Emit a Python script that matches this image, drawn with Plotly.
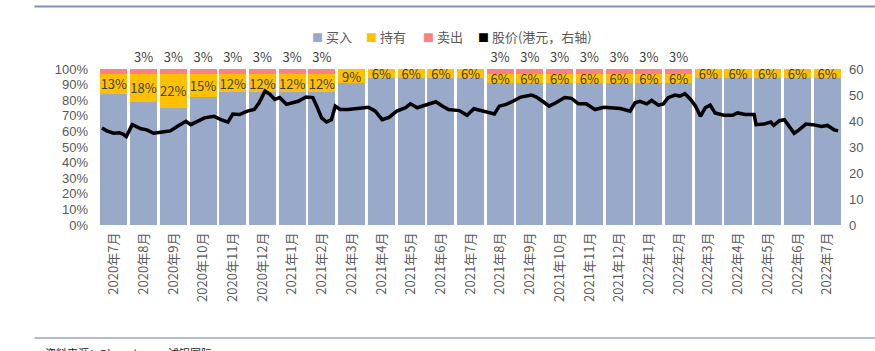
import plotly.graph_objects as go

months = ["2020年7月", "2020年8月", "2020年9月", "2020年10月", "2020年11月", "2020年12月",
          "2021年1月", "2021年2月", "2021年3月", "2021年4月", "2021年5月", "2021年6月",
          "2021年7月", "2021年8月", "2021年9月", "2021年10月", "2021年11月", "2021年12月",
          "2022年1月", "2022年2月", "2022年3月", "2022年4月", "2022年5月", "2022年6月",
          "2022年7月"]
buy = [84, 79, 75, 82, 85, 85, 85, 85, 91, 94, 94, 94, 94, 91, 91, 91, 91, 91, 91, 91, 94, 94, 94, 94, 94]
hold = [13, 18, 22, 15, 12, 12, 12, 12, 9, 6, 6, 6, 6, 6, 6, 6, 6, 6, 6, 6, 6, 6, 6, 6, 6]
sell = [3, 3, 3, 3, 3, 3, 3, 3, 0, 0, 0, 0, 0, 3, 3, 3, 3, 3, 3, 3, 0, 0, 0, 0, 0]
sell_labels = ["", "3%", "3%", "3%", "3%", "3%", "3%", "3%", "", "", "", "", "",
               "3%", "3%", "3%", "3%", "3%", "3%", "3%", "", "", "", "", ""]
legend_names = ["买入", "持有", "卖出", "股价(港元，右轴)"]

price_dates = [
    "2020-07-04", "2020-07-09", "2020-07-16", "2020-07-22", "2020-07-26", "2020-07-29",
    "2020-08-04", "2020-08-13", "2020-08-19", "2020-08-26", "2020-09-02", "2020-09-12",
    "2020-09-19", "2020-09-28", "2020-10-03", "2020-10-10", "2020-10-17", "2020-10-27",
    "2020-11-03", "2020-11-10", "2020-11-15", "2020-11-22", "2020-11-30", "2020-12-07",
    "2020-12-12", "2020-12-18", "2020-12-23", "2020-12-28", "2021-01-02", "2021-01-09",
    "2021-01-14", "2021-01-21", "2021-01-29", "2021-02-05", "2021-02-09", "2021-02-14",
    "2021-02-19", "2021-02-24", "2021-02-28", "2021-03-05", "2021-03-13", "2021-03-24",
    "2021-04-03", "2021-04-10", "2021-04-17", "2021-04-24", "2021-05-02", "2021-05-11",
    "2021-05-16", "2021-05-23", "2021-05-31", "2021-06-11", "2021-06-18", "2021-06-24",
    "2021-07-05", "2021-07-13", "2021-07-20", "2021-07-27", "2021-08-05", "2021-08-10",
    "2021-08-15", "2021-08-22", "2021-08-29", "2021-09-06", "2021-09-17", "2021-09-22",
    "2021-09-29", "2021-10-05", "2021-10-12", "2021-10-21", "2021-10-28", "2021-11-04",
    "2021-11-12", "2021-11-21", "2021-11-30", "2021-12-06", "2021-12-17", "2021-12-27",
    "2022-01-01", "2022-01-06", "2022-01-13", "2022-01-18", "2022-01-25", "2022-01-30",
    "2022-02-04", "2022-02-11", "2022-02-16", "2022-02-21", "2022-02-27", "2022-03-04",
    "2022-03-09", "2022-03-14", "2022-03-19", "2022-03-24", "2022-04-02", "2022-04-11",
    "2022-04-16", "2022-04-24", "2022-05-03", "2022-05-05", "2022-05-13", "2022-05-20",
    "2022-05-23", "2022-05-29", "2022-06-03", "2022-06-08", "2022-06-13", "2022-06-18",
    "2022-06-25", "2022-07-02", "2022-07-11", "2022-07-17", "2022-07-24", "2022-07-28",
]
price = [
    37.3, 36.2, 35.3, 35.5, 34.9, 34.0,
    38.6, 37.0, 36.6, 35.3, 35.7, 36.2,
    37.9, 39.9, 38.6, 39.9, 41.2, 41.8,
    40.5, 39.6, 42.7, 42.5, 43.8, 44.4,
    47.0, 51.5, 50.3, 48.3, 49.0, 46.4,
    47.0, 47.6, 49.2, 49.0, 45.7, 41.2,
    39.6, 40.5, 45.7, 44.4, 44.4, 44.8,
    45.3, 43.8, 40.5, 41.4, 43.8, 45.1,
    46.6, 45.1, 46.0, 47.4, 45.7, 44.4,
    44.0, 42.2, 44.7, 44.0, 43.1, 42.7,
    45.7, 46.4, 47.6, 49.2, 50.0, 49.2,
    47.4, 45.7, 47.0, 49.0, 48.7, 46.6,
    46.6, 44.4, 45.3, 45.1, 44.8, 43.8,
    47.0, 47.6, 46.6, 47.9, 46.1, 46.6,
    49.0, 50.0, 49.6, 50.5, 48.3, 45.7,
    41.8, 45.1, 46.1, 43.1, 42.2, 42.2,
    43.1, 42.5, 42.5, 38.6, 38.8, 39.6,
    38.3, 40.1, 40.5, 37.9, 35.3, 36.6,
    38.8, 38.6, 37.9, 38.3, 36.6, 36.2,
]

FONT = "Noto Sans CJK SC, Noto Sans, sans-serif"
NUM_FONT = "Liberation Sans, Arial, sans-serif"
TICK_COLOR = "#595959"
LABEL_COLOR = "#404040"
BUY_C, HOLD_C, SELL_C, PRICE_C = "#98A9C9", "#FFC000", "#FF8080", "#000000"

fig = go.Figure()
fig.add_trace(go.Bar(x=months, y=buy, name=legend_names[0], marker_color=BUY_C,
                     marker_line_width=0))
fig.add_trace(go.Bar(x=months, y=hold, name=legend_names[1], marker_color=HOLD_C,
                     marker_line_width=0, texttemplate="%{y:.0f}%",
                     textposition="inside", insidetextanchor="middle",
                     constraintext="none", textangle=0,
                     textfont=dict(color=LABEL_COLOR, size=13, family=FONT)))
fig.add_trace(go.Bar(x=months, y=sell, name=legend_names[2], marker_color=SELL_C,
                     marker_line_width=0, text=sell_labels, textposition="outside",
                     constraintext="none", cliponaxis=False, textangle=0,
                     textfont=dict(color=LABEL_COLOR, size=13, family=FONT),
                     outsidetextfont=dict(color=LABEL_COLOR, size=13, family=FONT)))
fig.add_trace(go.Scatter(x=price_dates, y=price, mode="lines", name=legend_names[3],
                         line=dict(color=PRICE_C, width=3.5), xaxis="x2", yaxis="y2"))

# legend drawn as text items: coloured square + name
legend_x = [0.2846, 0.3570, 0.4336, 0.5074]
legend_colors = [BUY_C, HOLD_C, SELL_C, PRICE_C]
annotations = []
for name, col, lx in zip(legend_names, legend_colors, legend_x):
    annotations.append(dict(
        text=f"<span style='color:{col};font-size:11px'>■</span> {name}",
        xref="paper", yref="paper", x=lx, y=1.209, xanchor="left", yanchor="middle",
        showarrow=False, font=dict(size=13, color=TICK_COLOR, family=FONT)))
annotations.append(dict(
    text="资料来源：Bloomberg，浦银国际", xref="paper", yref="paper",
    x=-0.075, y=-0.755, xanchor="left", yanchor="top", showarrow=False,
    font=dict(size=11, color="#262626", family=FONT)))

fig.update_layout(
    width=875, height=351,
    margin=dict(l=99, r=31, t=69, b=126),
    paper_bgcolor="white", plot_bgcolor="white",
    barmode="stack", bargap=0.09,
    font=dict(family=FONT, color=TICK_COLOR, size=13),
    showlegend=False,
    xaxis=dict(type="category", tickangle=-90, showgrid=False, showline=False,
               ticks="", ticklabelstandoff=4,
               tickfont=dict(size=13, color=TICK_COLOR), range=[-0.5, 24.5]),
    xaxis2=dict(type="date", overlaying="x", visible=False,
                range=["2020-07-01", "2022-08-01"]),
    yaxis=dict(range=[0, 100], dtick=10, ticksuffix="%", showgrid=False,
               showline=False, ticks="", ticklabelstandoff=10,
               tickfont=dict(size=13, color=TICK_COLOR, family=NUM_FONT), zeroline=False),
    yaxis2=dict(range=[0, 60], dtick=10, overlaying="y", side="right",
                showgrid=False, showline=False, ticks="", ticklabelstandoff=6,
                tickfont=dict(size=13, color=TICK_COLOR, family=NUM_FONT), zeroline=False),
    shapes=[
        dict(type="line", xref="paper", yref="paper", x0=-0.087, x1=1.05,
             y0=1.4, y1=1.4, line=dict(color="#7F93B8", width=2)),
        dict(type="line", xref="paper", yref="paper", x0=-0.087, x1=1.05,
             y0=-0.725, y1=-0.725, line=dict(color="#B4BCD9", width=2)),
    ],
    annotations=annotations,
)

fig.write_html("out.html")
